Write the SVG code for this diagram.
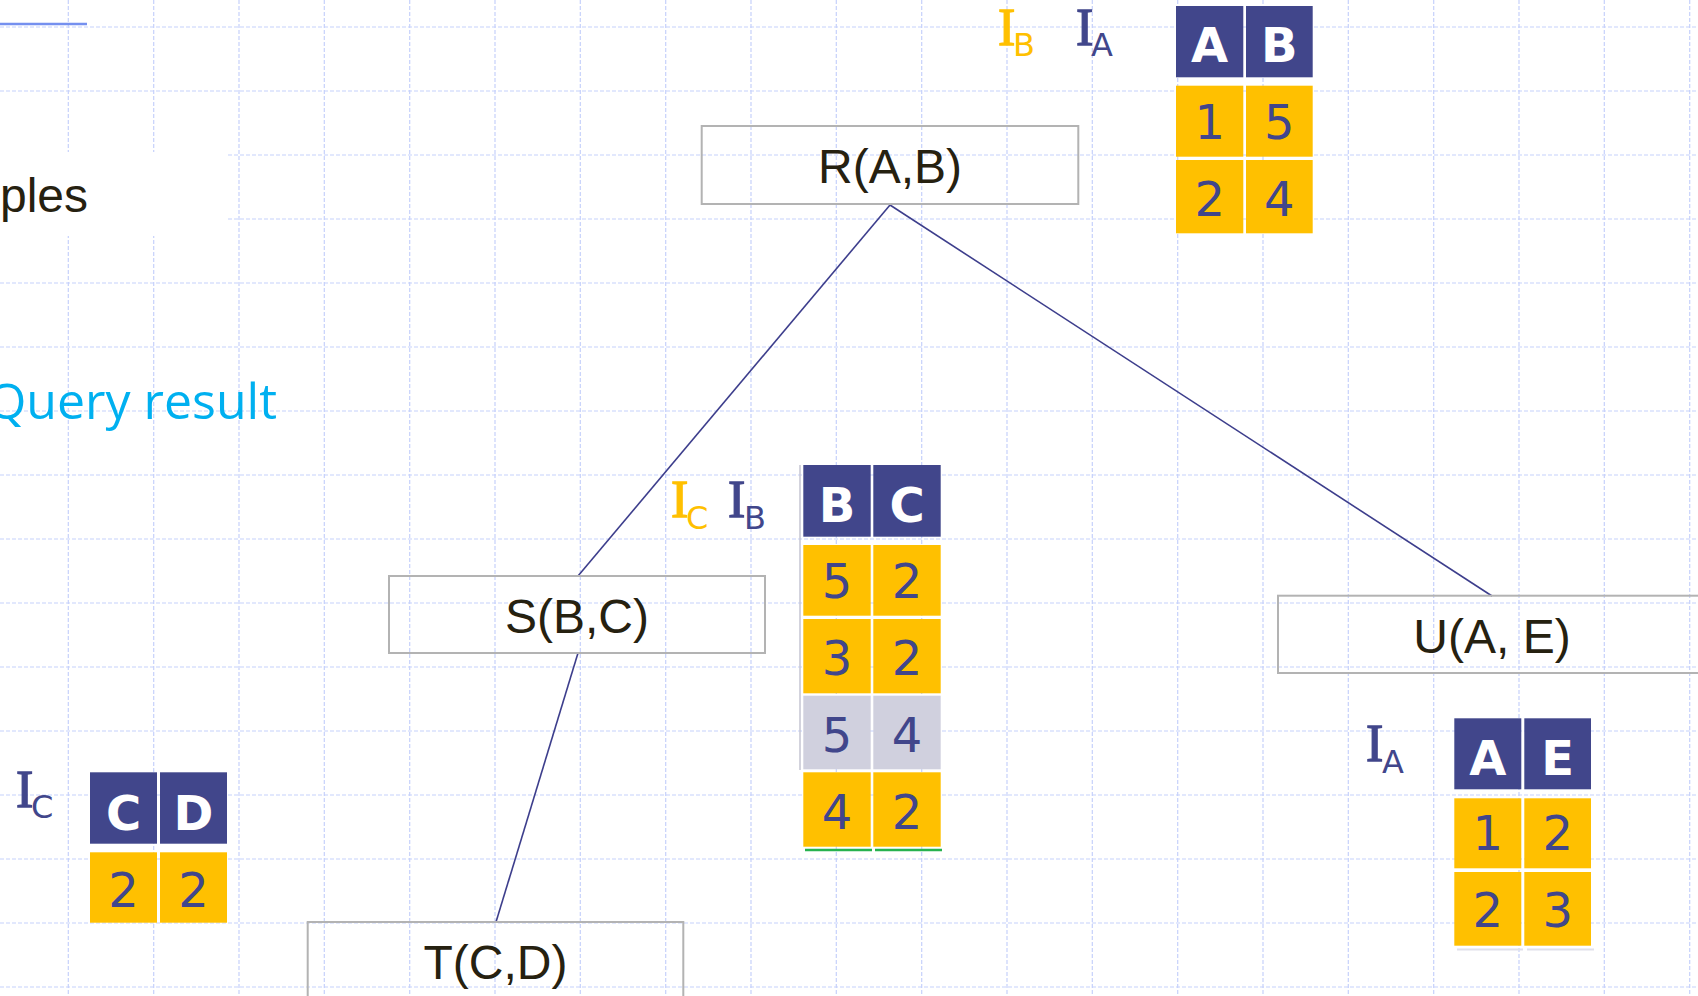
<svg xmlns="http://www.w3.org/2000/svg" width="1698" height="996" viewBox="0 0 1698 996">
<style>
.grid line{stroke:#c6d1fb;stroke-width:1.2;stroke-dasharray:4 2}
.box{fill:none;stroke:#b3b3b3;stroke-width:2}
.lbl{font-family:"Liberation Sans",Arial,sans-serif;font-size:48px;fill:#262110;text-anchor:middle}
.conn line{stroke:#3d3e8c;stroke-width:1.6}
.hd{fill:#41468b}
.yc{fill:#ffc000}
.gc{fill:#d0d0de}
.ht{font-family:"DejaVu Sans",Verdana,sans-serif;font-weight:bold;font-size:48px;fill:#fff;text-anchor:middle}
.dt{font-family:"DejaVu Sans",Verdana,sans-serif;font-size:48px;fill:#41468b;text-anchor:middle}
.iI{font-family:"Liberation Serif","Times New Roman",serif;font-size:52px;stroke-width:1.3}
.iS{font-family:"DejaVu Sans",Verdana,sans-serif;font-size:32px}
.yel{fill:#ffc000;stroke:#ffc000}
.blu{fill:#41468b;stroke:#41468b}
.iS.yel,.iS.blu{stroke:none}
</style>
<rect width="1698" height="996" fill="#fff"/>
<g class="grid">
<line x1="68.3" y1="0" x2="68.3" y2="996"/><line x1="153.7" y1="0" x2="153.7" y2="996"/><line x1="239" y1="0" x2="239" y2="996"/><line x1="324.3" y1="0" x2="324.3" y2="996"/><line x1="409.7" y1="0" x2="409.7" y2="996"/><line x1="495" y1="0" x2="495" y2="996"/><line x1="580.3" y1="0" x2="580.3" y2="996"/><line x1="665.7" y1="0" x2="665.7" y2="996"/><line x1="751" y1="0" x2="751" y2="996"/><line x1="836.3" y1="0" x2="836.3" y2="996"/><line x1="921.7" y1="0" x2="921.7" y2="996"/><line x1="1007" y1="0" x2="1007" y2="996"/><line x1="1092.3" y1="0" x2="1092.3" y2="996"/><line x1="1177.7" y1="0" x2="1177.7" y2="996"/><line x1="1263" y1="0" x2="1263" y2="996"/><line x1="1348.3" y1="0" x2="1348.3" y2="996"/><line x1="1433.7" y1="0" x2="1433.7" y2="996"/><line x1="1519" y1="0" x2="1519" y2="996"/><line x1="1604.3" y1="0" x2="1604.3" y2="996"/><line x1="1689.7" y1="0" x2="1689.7" y2="996"/>
<line x1="0" y1="27" x2="1698" y2="27"/><line x1="0" y1="91" x2="1698" y2="91"/><line x1="0" y1="155" x2="1698" y2="155"/><line x1="0" y1="219" x2="1698" y2="219"/><line x1="0" y1="283" x2="1698" y2="283"/><line x1="0" y1="347" x2="1698" y2="347"/><line x1="0" y1="411" x2="1698" y2="411"/><line x1="0" y1="475" x2="1698" y2="475"/><line x1="0" y1="539" x2="1698" y2="539"/><line x1="0" y1="603" x2="1698" y2="603"/><line x1="0" y1="667" x2="1698" y2="667"/><line x1="0" y1="731" x2="1698" y2="731"/><line x1="0" y1="795" x2="1698" y2="795"/><line x1="0" y1="859" x2="1698" y2="859"/><line x1="0" y1="923" x2="1698" y2="923"/><line x1="0" y1="987" x2="1698" y2="987"/>
</g>
<rect x="0" y="152" width="227" height="84" fill="#fff"/>
<line x1="0" y1="24" x2="87" y2="24" stroke="#7590ef" stroke-width="2.5"/>
<g id="text-left">
<text x="88" y="212" font-family="'Liberation Sans',Arial,sans-serif" font-size="48" fill="#262110" text-anchor="end">ples</text>
<text x="277" y="419" font-family="'Open Sans','Noto Sans',sans-serif" font-size="50" fill="#00b0f0" text-anchor="end">Query result</text>
</g>
<g class="conn" id="connectors">
<line x1="890" y1="205" x2="578" y2="576"/>
<line x1="890" y1="205" x2="1492" y2="596"/>
<line x1="578" y1="653" x2="496" y2="922"/>
</g>
<g id="node-R">
<rect class="box" x="701.7" y="126" width="376.6" height="78"/>
<text class="lbl" x="890" y="182.7">R(A,B)</text>
</g>
<g id="node-S">
<rect class="box" x="389" y="576" width="376" height="77"/>
<text class="lbl" x="577" y="632.7">S(B,C)</text>
</g>
<g id="node-T">
<rect class="box" x="307.7" y="922" width="375.6" height="90"/>
<text class="lbl" x="495.5" y="979">T(C,D)</text>
</g>
<g id="node-U">
<rect class="box" x="1278" y="595.7" width="440" height="77.3"/>
<text class="lbl" x="1492" y="652.7">U(A, E)</text>
</g>
<g id="table-AB">
<rect class="hd" x="1176" y="6" width="67.3" height="71.3"/><rect class="hd" x="1246" y="6" width="66.7" height="71.3"/>
<rect class="yc" x="1176" y="85.7" width="67.3" height="71"/><rect class="yc" x="1246" y="85.7" width="66.7" height="71"/>
<rect class="yc" x="1176" y="160" width="67.3" height="73.3"/><rect class="yc" x="1246" y="160" width="66.7" height="73.3"/>
<text class="ht" x="1209.7" y="61.7" font-size="41">A</text><text class="ht" x="1279.3" y="61.7" font-size="41">B</text>
<text class="dt" x="1209.7" y="138.5">1</text><text class="dt" x="1279.3" y="138.5">5</text>
<text class="dt" x="1209.7" y="216">2</text><text class="dt" x="1279.3" y="216">4</text>
</g>
<g id="label-top">
<text x="998" y="45" class="iI yel">I</text><text x="1013" y="56" class="iS yel">B</text>
<text x="1076" y="45" class="iI blu">I</text><text x="1091" y="56" class="iS blu">A</text>
</g>
<g id="table-BC">
<line x1="800" y1="465" x2="800" y2="770" stroke="#c4c4d2" stroke-width="1.5"/>
<rect class="hd" x="803.3" y="465" width="67.4" height="71.7"/><rect class="hd" x="873.3" y="465" width="67.4" height="71.7"/>
<rect class="yc" x="803.3" y="545" width="67.4" height="70.7"/><rect class="yc" x="873.3" y="545" width="67.4" height="70.7"/>
<rect class="yc" x="803.3" y="619" width="67.4" height="74.3"/><rect class="yc" x="873.3" y="619" width="67.4" height="74.3"/>
<rect class="gc" x="803.3" y="695.7" width="67.4" height="73.6"/><rect class="gc" x="873.3" y="695.7" width="67.4" height="73.6"/>
<rect class="yc" x="803.3" y="772.3" width="67.4" height="74.4"/><rect class="yc" x="873.3" y="772.3" width="67.4" height="74.4"/>
<line x1="805" y1="850" x2="872" y2="850" stroke="#27b24f" stroke-width="2.5"/><line x1="875" y1="850" x2="942" y2="850" stroke="#27b24f" stroke-width="2.5"/>
<text class="ht" x="837" y="521.7">B</text><text class="ht" x="907" y="521.7">C</text>
<text class="dt" x="837" y="598.3">5</text><text class="dt" x="907" y="598.3">2</text>
<text class="dt" x="837" y="675">3</text><text class="dt" x="907" y="675">2</text>
<text class="dt" x="837" y="751.7">5</text><text class="dt" x="907" y="751.7">4</text>
<text class="dt" x="837" y="829">4</text><text class="dt" x="907" y="829">2</text>
</g>
<g id="label-mid">
<text x="671" y="516.7" class="iI yel">I</text><text x="686" y="529" class="iS yel">C</text>
<text x="728" y="516.7" class="iI blu">I</text><text x="744" y="529" class="iS blu">B</text>
</g>
<g id="table-CD">
<rect class="hd" x="90" y="772.3" width="67" height="71.4"/><rect class="hd" x="160" y="772.3" width="67" height="71.4"/>
<rect class="yc" x="90" y="852.3" width="67" height="70.4"/><rect class="yc" x="160" y="852.3" width="67" height="70.4"/>
<text class="ht" x="123.5" y="830">C</text><text class="ht" x="193.5" y="830">D</text>
<text class="dt" x="123.5" y="906.7">2</text><text class="dt" x="193.5" y="906.7">2</text>
</g>
<g id="label-left">
<text x="16" y="806.7" class="iI blu">I</text><text x="31" y="818" class="iS blu">C</text>
</g>
<g id="table-AE">
<rect class="hd" x="1454.3" y="718.3" width="67" height="71"/><rect class="hd" x="1524.3" y="718.3" width="66.7" height="71"/>
<rect class="yc" x="1454.3" y="798.3" width="67" height="70"/><rect class="yc" x="1524.3" y="798.3" width="66.7" height="70"/>
<rect class="yc" x="1454.3" y="872" width="67" height="73.7"/><rect class="yc" x="1524.3" y="872" width="66.7" height="73.7"/>
<line x1="1457" y1="949.5" x2="1523" y2="949.5" stroke="#e0e0ea" stroke-width="2"/><line x1="1527" y1="949.5" x2="1594" y2="949.5" stroke="#e0e0ea" stroke-width="2"/>
<text class="ht" x="1487.8" y="775">A</text><text class="ht" x="1557.7" y="775">E</text>
<text class="dt" x="1487.8" y="850">1</text><text class="dt" x="1557.7" y="850">2</text>
<text class="dt" x="1487.8" y="926.7">2</text><text class="dt" x="1557.7" y="926.7">3</text>
</g>
<g id="label-right">
<text x="1366" y="761" class="iI blu">I</text><text x="1382" y="772.7" class="iS blu">A</text>
</g>
</svg>
